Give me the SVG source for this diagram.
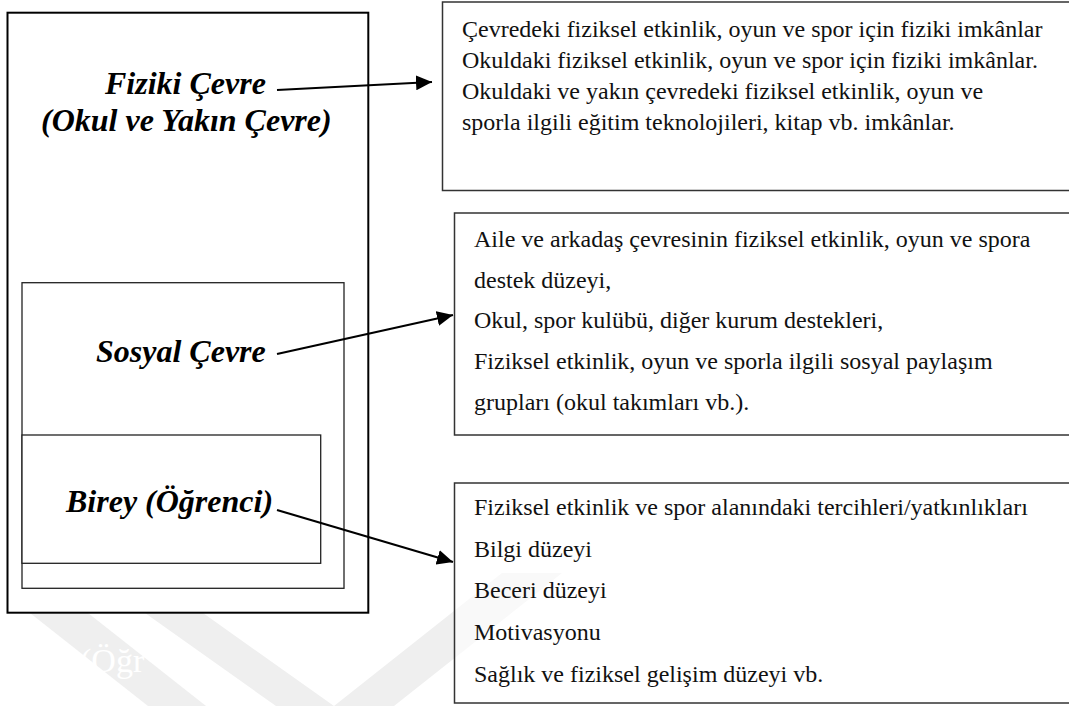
<svg xmlns="http://www.w3.org/2000/svg" width="1069" height="706" viewBox="0 0 1069 706">
  <style>
    .lbl { font-family: "Liberation Serif", "Times New Roman", serif; font-weight: bold; font-style: italic; font-size: 32px; fill: #000; }
    .txt { font-family: "Liberation Serif", "Times New Roman", serif; font-size: 24px; fill: #111; }
    .wm { fill: #efefef; }
    .wmtxt { font-family: "Liberation Serif", "Times New Roman", serif; font-size: 34px; fill: #fff; }
    .outer { fill: #fff; stroke: #000; stroke-width: 2; }
    .inner { fill: #fff; stroke: #222; stroke-width: 1.3; }
    .rbox { fill: #fff; stroke: #333; stroke-width: 1.5; }
    .conn { stroke: #000; stroke-width: 2.2; fill: none; marker-end: url(#ah); }
  </style>
  <defs>
    <marker id="ah" markerUnits="userSpaceOnUse" markerWidth="16" markerHeight="15" viewBox="0 0 15 14" refX="15" refY="7" orient="auto">
      <path d="M0,0 L15,7 L0,14 z" fill="#000"/>
    </marker>
  </defs>
  <rect width="1069" height="706" fill="#fff"/>

  <g id="watermark">
    <polygon class="wm" points="30,613 88,613 206,706 148,706"/>
    <polygon class="wm" points="145,613 203,613 334,706 276,706"/>
    <polygon class="wm" points="334,706 394,706 562,573 502,573"/>
    <text class="wmtxt" x="80" y="672">(Öğr</text>
  </g>

  <g id="fiziki-cevre">
    <rect class="outer" x="7.5" y="12.7" width="360.8" height="600"/>
    <text class="lbl" x="105" y="94">Fiziki Çevre</text>
    <text class="lbl" x="41" y="131">(Okul ve Yakın Çevre)</text>
  </g>

  <g id="sosyal-cevre">
    <rect class="inner" x="22" y="282.7" width="322" height="305.6"/>
    <text class="lbl" x="96" y="362">Sosyal Çevre</text>
  </g>

  <g id="birey">
    <rect class="inner" x="22" y="435" width="298.7" height="128.3"/>
    <text class="lbl" x="66" y="512">Birey (Öğrenci)</text>
  </g>

  <g id="fiziki-detay">
    <rect class="rbox" x="442.5" y="2" width="640" height="188.5"/>
    <text class="txt" x="462" y="37">Çevredeki fiziksel etkinlik, oyun ve spor için fiziki imkânlar</text>
    <text class="txt" x="462" y="68">Okuldaki fiziksel etkinlik, oyun ve spor için fiziki imkânlar.</text>
    <text class="txt" x="462" y="99">Okuldaki ve yakın çevredeki fiziksel etkinlik, oyun ve</text>
    <text class="txt" x="462" y="130">sporla ilgili eğitim teknolojileri, kitap vb. imkânlar.</text>
  </g>

  <g id="sosyal-detay">
    <rect class="rbox" x="454.5" y="213" width="630" height="222"/>
    <text class="txt" x="474" y="247">Aile ve arkadaş çevresinin fiziksel etkinlik, oyun ve spora</text>
    <text class="txt" x="474" y="288">destek düzeyi,</text>
    <text class="txt" x="474" y="328">Okul, spor kulübü, diğer kurum destekleri,</text>
    <text class="txt" x="474" y="369">Fiziksel etkinlik, oyun ve sporla ilgili sosyal paylaşım</text>
    <text class="txt" x="474" y="410">grupları (okul takımları vb.).</text>
  </g>

  <g id="birey-detay">
    <rect class="rbox" x="454.5" y="483" width="630" height="220" fill-opacity="0.6"/>
    <text class="txt" x="474" y="515">Fiziksel etkinlik ve spor alanındaki tercihleri/yatkınlıkları</text>
    <text class="txt" x="474" y="557">Bilgi düzeyi</text>
    <text class="txt" x="474" y="598">Beceri düzeyi</text>
    <text class="txt" x="474" y="640">Motivasyonu</text>
    <text class="txt" x="474" y="682">Sağlık ve fiziksel gelişim düzeyi vb.</text>
  </g>

  <g id="connectors">
    <line class="conn" x1="277" y1="90" x2="432" y2="82"/>
    <line class="conn" x1="277" y1="354" x2="453" y2="315"/>
    <line class="conn" x1="277" y1="510" x2="453" y2="562"/>
  </g>
</svg>
